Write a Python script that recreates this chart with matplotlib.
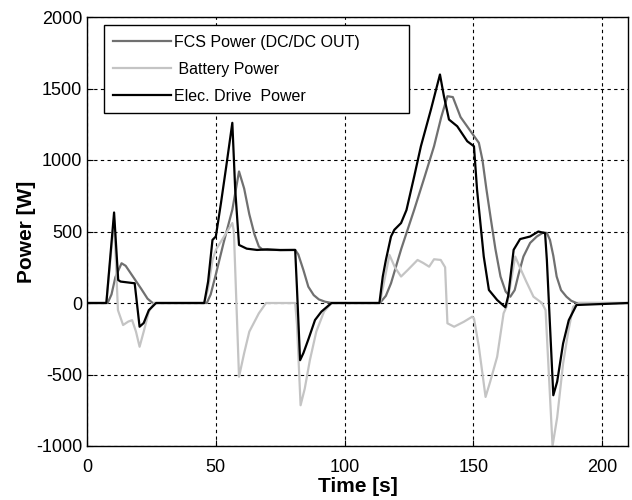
import matplotlib
matplotlib.use("Agg")
import matplotlib.pyplot as plt

plt.rcParams['font.family'] = ['Liberation Sans', 'DejaVu Sans']
plt.rcParams['axes.unicode_minus'] = False

# FCS Power (DC/DC OUT)
fcs_t = [0, 8, 9.5, 11, 13.4, 15, 18, 21, 23.5, 25.5, 46.5, 48, 50, 53, 56.4, 59, 61, 63, 65, 66.7,
         68, 70, 80.8, 82, 84, 85.9, 88, 90, 92.4, 95, 113.7, 116, 118, 122, 127, 131, 134.7, 137.5,
         139.9, 142, 145, 148.9, 152.1, 153.5, 155, 156.6, 158.5, 160.5, 162.5, 164.3, 166, 167.5,
         169.4, 172, 174.6, 177.1, 178.5, 179.7, 181, 182.3, 184, 186.1, 188, 190, 210]
fcs_p = [0, 0, 60, 180, 278, 260, 180, 100, 30, 0, 0, 60, 200, 420, 652, 920, 800, 620, 480, 395,
         375, 371, 371, 340, 230, 114, 55, 25, 9, 0, 0, 50, 138, 380, 652, 880, 1096, 1300,
         1446, 1440, 1300, 1201, 1120, 1000, 800, 605, 380, 185, 80, 44, 90, 200,
         325, 420, 465, 493, 490, 441, 330, 185, 90, 44, 15, 0, 0]

# Battery Power
bat_t = [0, 7.5, 10.5, 12, 14, 16, 17.5, 19, 20.4, 22, 24, 26, 45.5, 47, 48.7, 50, 53, 56.4, 57, 59,
         61, 63, 66.7, 69.5, 80.8, 81.5, 82.9, 84.5, 86.5, 89, 92, 95, 113.7, 115, 117.4, 119.5,
         121.9, 124.5, 128.3, 130.5, 132.8, 134.7, 137.3, 139, 139.9, 142.5, 146.3, 149.5, 150.2,
         152.1, 154.7, 156.5, 159.2, 161.7, 163, 166.2, 168, 170.5, 173.3, 176.6, 178, 180.7, 182.5,
         184.8, 186.8, 188.7, 191, 210]
bat_p = [0, 0, 580, -50, -154, -130, -120, -200, -306, -200, -60, 0, 0, 100, 300, 371, 460, 559, 500, -516,
         -350, -200, -72, 0, 0, -150, -715, -600, -400, -200, -60, 0, 0, 120, 336, 250,
         185, 231, 301, 280, 254, 306, 301, 250, -142, -166, -131, -96, -107,
         -306, -657, -550, -376, -72, -20, 325, 250, 150, 44, 0, -50, -1000, -800,
         -423, -200, -26, 0, 0]

# Elec. Drive Power
drv_t = [0, 7.5, 10.5, 12.1, 13, 17.5, 18.5, 20.4, 22, 24, 26.8, 45.5, 47, 48.7, 50, 52, 54, 56.4, 57.5,
         59, 62, 66, 70, 75, 80.8, 81.5, 82.7, 84, 86, 88.5, 91, 94.9, 113.5, 114.8, 116, 118, 119.3,
         121.9, 124, 127, 129.6, 133.5, 137, 138.5, 140.5, 143.7, 147.6, 150.2, 151.4, 154, 156,
         159.2, 162.4, 163.5, 165.6, 168.1, 172, 175.2, 177.8, 178.5, 181, 182.5, 184.8, 187, 190, 210]
drv_p = [0, 0, 633, 161, 150, 140, 138, -166, -140, -50, 0, 0, 150, 441, 465, 700, 950, 1260, 800,
         406, 380, 371, 375, 370, 371, 100, -400, -350, -250, -119, -60, 0, 0, 185, 300, 465, 512,
         559, 650, 885, 1096, 1353, 1598, 1450, 1283, 1236, 1131, 1096, 792, 325, 91,
         21, -30, 50, 372, 447, 465, 500, 488, 300, -645, -550, -283, -120, -14, 0]

xticks = [0, 50, 100, 150, 200]
yticks = [-1000, -500, 0, 500, 1000, 1500, 2000]

fig = plt.figure(figsize=(6.32, 5.0), dpi=100)
ax = fig.add_axes([0.1377, 0.108, 0.856, 0.858])

ax.plot(fcs_t, fcs_p, color='#707070', lw=1.6, label='FCS Power (DC/DC OUT)')
ax.plot(bat_t, bat_p, color='#c4c4c4', lw=1.6, label=' Battery Power')
ax.plot(drv_t, drv_p, color='black', lw=1.6, label='Elec. Drive  Power')

ax.set_xlim(0, 210)
ax.set_ylim(-1000, 2000)
ax.set_xticks(xticks)
ax.set_yticks(yticks)
ax.grid(True, color='black', linestyle=(0, (3, 3)), linewidth=0.8)
ax.tick_params(direction='in', length=4, labelsize=13, colors='black')
ax.tick_params(axis='x', pad=9)
for s in ax.spines.values():
    s.set_linewidth(1.0)
    s.set_color('black')

ax.set_xlabel('Time [s]', fontsize=15, fontweight='bold', labelpad=1)
ax.set_ylabel('Power [W]', fontsize=15, fontweight='bold', labelpad=0)

leg = ax.legend(loc='upper left', bbox_to_anchor=(0.031, 0.0, 0.564, 0.981), mode='expand',
                borderaxespad=0, fontsize=11.5, handlelength=3.6, handletextpad=0.2,
                labelspacing=0.75, borderpad=0.6, fancybox=False, framealpha=1,
                edgecolor='black')
leg.get_frame().set_linewidth(1.0)

fig.savefig('out.png', dpi=100)
